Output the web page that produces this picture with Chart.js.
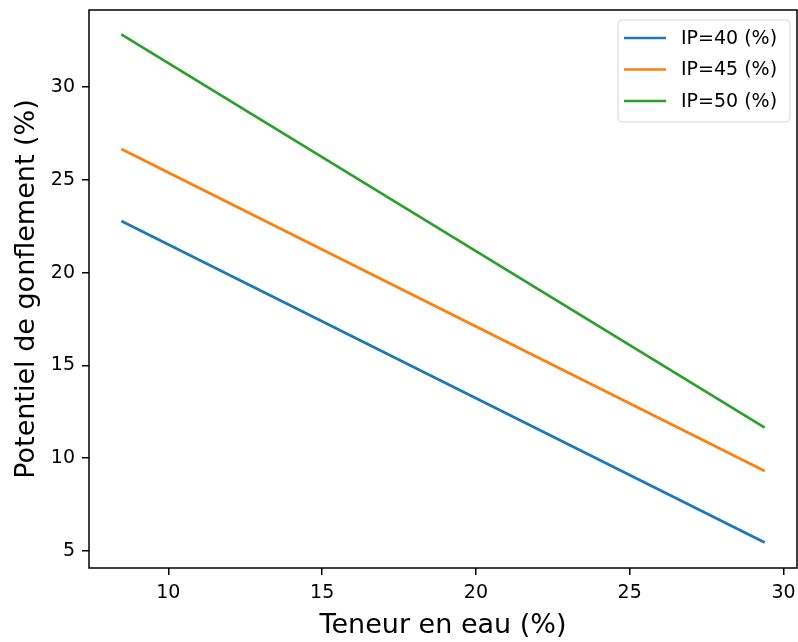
<!DOCTYPE html>
<html>
<head>
<meta charset="utf-8">
<script src="https://cdn.jsdelivr.net/npm/chart.js@4"></script>
<style>
  body { margin: 0; background: #fff; }
  #wrap { width: 798px; height: 642px; }
</style>
</head>
<body>
<div id="wrap"><canvas id="swellChart"></canvas></div>
<script>
// data
const teneurEau = [8.47, 29.39];
const ip40 = [22.78, 5.45];
const ip45 = [26.66, 9.31];
const ip50 = [32.84, 11.64];
const seriesLabels = ['IP=40 (%)', 'IP=45 (%)', 'IP=50 (%)'];
const seriesColors = ['#1f77b4', '#ff7f0e', '#2ca02c'];
const xTicks = [10, 15, 20, 25, 30];
const yTicks = [5, 10, 15, 20, 25, 30];

const font = 'DejaVu Sans';

function toPoints(ys) {
  return ys.map((y, i) => ({ x: teneurEau[i], y: y }));
}

// frame around the plot + legend box in the top right corner
const framePlugin = {
  id: 'frame',
  afterDraw(chart) {
    const { ctx, chartArea: a } = chart;
    ctx.save();
    ctx.strokeStyle = '#000';
    ctx.lineWidth = 1.5;
    ctx.strokeRect(a.left, a.top, a.right - a.left, a.bottom - a.top);

    // legend
    const bx = 618, by = 20, bw = 172, bh = 102, r = 4;
    ctx.beginPath();
    ctx.roundRect(bx, by, bw, bh, r);
    ctx.fillStyle = 'rgba(255,255,255,0.8)';
    ctx.fill();
    ctx.strokeStyle = '#d6d6d6';
    ctx.lineWidth = 1;
    ctx.stroke();
    ctx.font = '19px "' + font + '"';
    ctx.textBaseline = 'middle';
    ctx.fillStyle = '#000';
    chart.data.datasets.forEach((ds, i) => {
      const y = 38 + i * 31.5;
      ctx.beginPath();
      ctx.moveTo(624, y);
      ctx.lineTo(666, y);
      ctx.strokeStyle = ds.borderColor;
      ctx.lineWidth = 2.7;
      ctx.stroke();
      ctx.fillText(ds.label, 681, y + 1);
    });
    ctx.restore();
  }
};

new Chart(document.getElementById('swellChart'), {
  type: 'line',
  data: {
    datasets: [ip40, ip45, ip50].map((s, i) => ({
      label: seriesLabels[i],
      data: toPoints(s),
      borderColor: seriesColors[i],
      backgroundColor: seriesColors[i],
      borderWidth: 2.7,
      pointRadius: 0,
      tension: 0,
      fill: false
    }))
  },
  options: {
    responsive: true,
    maintainAspectRatio: false,
    animation: false,
    layout: { padding: { top: 10, right: 1, left: 0, bottom: 0 } },
    plugins: {
      legend: { display: false },
      tooltip: { enabled: false }
    },
    scales: {
      x: {
        type: 'linear',
        min: 7.42,
        max: 30.44,
        afterBuildTicks: (scale) => { scale.ticks = xTicks.map(v => ({ value: v })); },
        afterFit: (scale) => { scale.height = 74; scale.paddingLeft = 0; scale.paddingRight = 0; },
        border: { display: false },
        grid: { drawOnChartArea: false, drawTicks: true, tickLength: 7, color: '#000', lineWidth: 1.5 },
        ticks: { color: '#000', padding: 7, font: { family: font, size: 19 }, maxRotation: 0 },
        title: { display: true, text: 'Teneur en eau (%)', color: '#000', font: { family: font, size: 27 }, padding: { top: 0, bottom: 0 } }
      },
      y: {
        type: 'linear',
        min: 4.08,
        max: 34.15,
        afterBuildTicks: (scale) => { scale.ticks = yTicks.map(v => ({ value: v })); },
        afterFit: (scale) => { scale.width = 89; scale.paddingTop = 0; scale.paddingBottom = 0; },
        border: { display: false },
        grid: { drawOnChartArea: false, drawTicks: true, tickLength: 7, color: '#000', lineWidth: 1.5 },
        ticks: { color: '#000', padding: 7, font: { family: font, size: 19 } },
        title: { display: true, text: 'Potentiel de gonflement (%)', color: '#000', font: { family: font, size: 27 }, padding: { top: 11, bottom: 0 } }
      }
    }
  },
  plugins: [framePlugin]
});
</script>
</body>
</html>
